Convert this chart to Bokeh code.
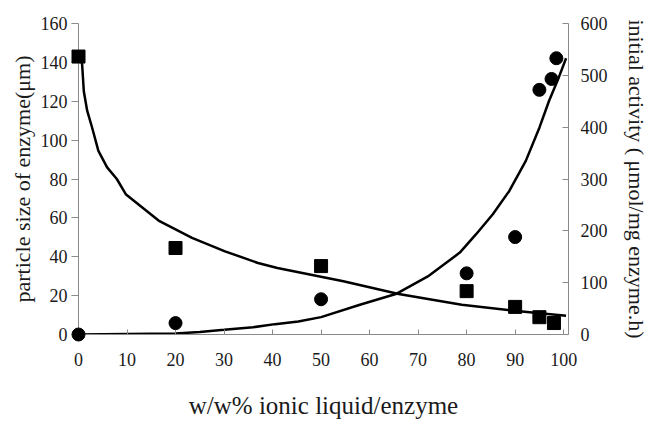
from bokeh.plotting import figure
from bokeh.models import Range1d, LinearAxis, FixedTicker
from bokeh.embed import file_html
from bokeh.resources import INLINE

# ---- data ----
x_ticks = [0, 10, 20, 30, 40, 50, 60, 70, 80, 90, 100]
size_ticks = [0, 20, 40, 60, 80, 100, 120, 140, 160]
act_ticks = [0, 100, 200, 300, 400, 500, 600]

# particle size (left axis), squares
size_x = [0, 20, 50, 80, 90, 95, 98]
size_y = [143, 44.5, 35.2, 22.3, 14.2, 8.9, 5.9]

# initial activity (right axis), circles
act_x = [0, 20, 50, 80, 90, 95, 97.5, 98.5]
act_y = [0, 22, 68, 118, 188, 472, 493, 533]

# trend line for particle size
size_fit_x = [0.3, 0.75, 1.1, 1.8, 2.8, 4.1, 5.9, 7.9, 9.8, 16.7, 23.4, 30.2,
              37, 41, 54.6, 66, 79, 89.8, 100.5]
size_fit_y = [143, 139, 125, 115, 106.5, 94.5, 86, 80, 72, 58.3, 49.7, 42.8,
              36.8, 34.2, 27.4, 20.8, 15.3, 12.2, 9.7]

# trend line for activity
act_fit_x = [0, 20, 25, 30, 36, 40.5, 45.3, 50, 58, 65.4, 72, 78.6, 82, 85.4,
             88.8, 92.2, 95, 97, 99, 100.5]
act_fit_y = [0, 2, 5, 9, 14, 20, 25, 33.5, 57.5, 78, 112, 158, 194, 232,
             277, 335, 399, 451, 496, 533]

FONT = "Liberation Serif"
AXIS_GREY = "#8a8a8a"

p = figure(width=651, height=422, output_backend="svg", toolbar_location=None,
           x_range=Range1d(0, 101), y_range=Range1d(0, 160),
           min_border_left=78, min_border_right=78, min_border_top=23,
           min_border_bottom=88, background_fill_color="white",
           border_fill_color="white")
p.outline_line_color = None
p.xgrid.visible = False
p.ygrid.visible = False
p.extra_y_ranges = {"act": Range1d(0, 600)}

# bottom axis
xa = p.xaxis[0]
xa.ticker = FixedTicker(ticks=x_ticks)
xa.axis_label = "w/w% ionic liquid/enzyme"

# left axis
ya = p.yaxis[0]
ya.ticker = FixedTicker(ticks=size_ticks)
ya.axis_label = "particle size of enzyme(\u03bcm)"

# right axis
ra = LinearAxis(y_range_name="act", ticker=FixedTicker(ticks=act_ticks),
                axis_label="initial activity ( \u03bcmol/mg enzyme.h)")
p.add_layout(ra, "right")

for ax in (xa, ya, ra):
    ax.axis_line_color = AXIS_GREY
    ax.axis_line_width = 1
    ax.major_tick_line_color = AXIS_GREY
    ax.minor_tick_line_color = None
    ax.major_label_text_font = FONT
    ax.major_label_text_font_size = "18px"
    ax.major_label_text_color = "#1a1a1a"
    ax.axis_label_text_font = FONT
    ax.axis_label_text_font_style = "normal"
    ax.axis_label_text_color = "#1a1a1a"

xa.major_tick_in = 5
xa.major_tick_out = 0
xa.major_label_standoff = 18
xa.axis_label_text_font_size = "25px"
xa.axis_label_standoff = 23

ya.major_tick_in = 0
ya.major_tick_out = 7
ya.major_label_standoff = 4
ya.axis_label_text_font_size = "22px"
ya.axis_label_standoff = 3

ra.major_tick_in = 6
ra.major_tick_out = 0
ra.major_label_standoff = 12
ra.axis_label_text_font_size = "22px"
ra.axis_label_standoff = 13

# trend lines
p.line(size_fit_x, size_fit_y, line_color="black", line_width=2.5)
p.line(act_fit_x, act_fit_y, line_color="black", line_width=2.5,
       y_range_name="act")

# markers (overlay level so the points on the axes are not cut off)
p.scatter(size_x, size_y, marker="square", size=13, fill_color="black",
          line_color="black", level="overlay")
p.scatter(act_x, act_y, marker="circle", size=13, fill_color="black",
          line_color="black", y_range_name="act", level="overlay")

open("out.html", "w").write(file_html(p, INLINE))
